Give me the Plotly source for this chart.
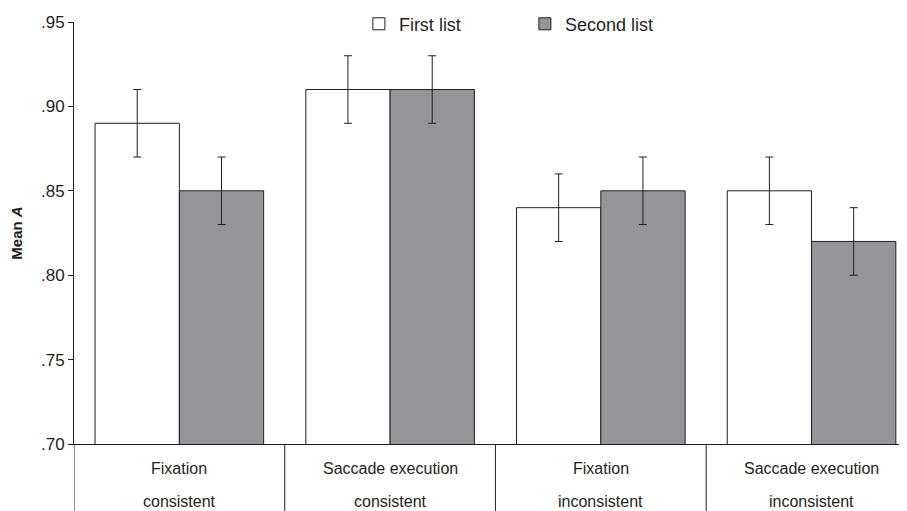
import plotly.graph_objects as go

categories = ["Fixation consistent", "Saccade execution consistent",
              "Fixation inconsistent", "Saccade execution inconsistent"]
label_line1 = ["Fixation", "Saccade execution", "Fixation", "Saccade execution"]
label_line2 = ["consistent", "consistent", "inconsistent", "inconsistent"]
first_list = [0.89, 0.91, 0.84, 0.85]
second_list = [0.85, 0.91, 0.85, 0.82]
first_err = [0.02, 0.02, 0.02, 0.02]
second_err = [0.02, 0.02, 0.02, 0.02]
tick_vals = [0.70, 0.75, 0.80, 0.85, 0.90, 0.95]
tick_text = [".70", ".75", ".80", ".85", ".90", ".95"]

INK = "#231f20"
GRAY = "#939598"
FONT = "Liberation Sans, Arial, sans-serif"

x_idx = list(range(len(categories)))

fig = go.Figure()
fig.add_trace(go.Bar(
    x=x_idx, y=first_list, name="First list",
    marker=dict(color="white", line=dict(color=INK, width=1)),
    error_y=dict(type="data", array=first_err, color=INK, thickness=1, width=4),
))
fig.add_trace(go.Bar(
    x=x_idx, y=second_list, name="Second list",
    marker=dict(color=GRAY, line=dict(color=INK, width=1)),
    error_y=dict(type="data", array=second_err, color=INK, thickness=1, width=4),
))

# category labels (two lines) and separators below the axis
for i in x_idx:
    fig.add_annotation(x=i, xref="x", y=0, yref="paper", text=label_line1[i],
                       showarrow=False, yanchor="middle", yshift=-24,
                       font=dict(family=FONT, size=16, color=INK))
    fig.add_annotation(x=i, xref="x", y=0, yref="paper", text=label_line2[i],
                       showarrow=False, yanchor="middle", yshift=-57,
                       font=dict(family=FONT, size=16, color=INK))
for b in [i - 0.5 for i in x_idx] + [len(categories) - 0.5]:
    fig.add_shape(type="line", xref="x", yref="paper", x0=b, x1=b, y0=0, y1=-0.3,
                  line=dict(color=INK, width=1))

# the page body has an 8px margin, so the figure is sized to end at the window edge
fig.update_layout(
    width=899, height=503,
    margin=dict(l=66, r=0, t=14, b=67, autoexpand=False),
    paper_bgcolor="white", plot_bgcolor="white",
    barmode="group", bargap=0.2, bargroupgap=0,
    font=dict(family=FONT, size=16, color=INK),
    showlegend=True,
    legend=dict(orientation="h", x=0.342, xanchor="left", y=0.995, yanchor="middle",
                font=dict(family=FONT, size=18, color=INK),
                bgcolor="rgba(0,0,0,0)", itemwidth=30,
                entrywidth=121, entrywidthmode="pixels"),
    xaxis=dict(range=[-0.5, 3.453], showticklabels=False, ticks="",
               showline=True, linecolor=INK, linewidth=1, showgrid=False,
               zeroline=False, fixedrange=True, automargin=False),
    yaxis=dict(range=[0.70, 0.95], tickvals=tick_vals, ticktext=tick_text,
               ticks="outside", ticklen=5, tickcolor=INK, showline=True,
               linecolor=INK, linewidth=1, showgrid=False, zeroline=False,
               automargin=False,
               tickfont=dict(family=FONT, size=17, color=INK),
               title=dict(text="<b>Mean <i>A</i></b>", standoff=14,
                          font=dict(family=FONT, size=15, color=INK))),
)

fig.write_html("out.html")
